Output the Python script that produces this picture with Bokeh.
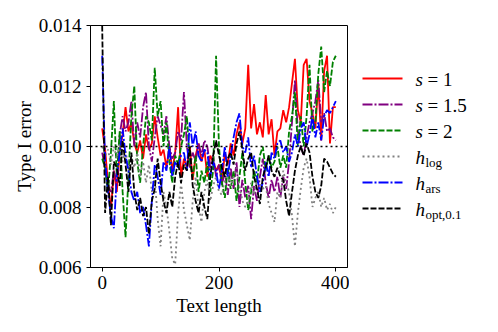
from bokeh.plotting import figure
from bokeh.layouts import row
from bokeh.models import Range1d, FixedTicker, PrintfTickFormatter, Span, ColumnDataSource
from bokeh.core.properties import value
from bokeh.embed import file_html
from bokeh.resources import INLINE

text_length = list(range(0, 401, 5))

s1 = [
0.0106, 0.0099, 0.0088, 0.0079, 0.0092, 0.0085, 0.0098, 0.0104, 0.0113, 0.0105,
0.0108, 0.0101, 0.0098, 0.0102, 0.0096, 0.0104, 0.0099, 0.0101, 0.0110, 0.0103,
0.0097, 0.0099, 0.0093, 0.0100, 0.0092, 0.0098, 0.0113, 0.0090, 0.0096, 0.0093,
0.0100, 0.0089, 0.0097, 0.0101, 0.0095, 0.0099, 0.0090, 0.0097, 0.0095, 0.0092,
0.0094, 0.0088, 0.0098, 0.0094, 0.0101, 0.0097, 0.0104, 0.0108, 0.0101, 0.0106,
0.0127, 0.0106, 0.0114, 0.0104, 0.0108, 0.0103, 0.0117, 0.0104, 0.0109, 0.0097,
0.0105, 0.0106, 0.0112, 0.0108, 0.0113, 0.0121, 0.0129, 0.0112, 0.0108, 0.0127,
0.0129, 0.0115, 0.0111, 0.0106, 0.0121, 0.0102, 0.0125, 0.0130, 0.0101, 0.0113,
0.0113]

s15 = [
0.0098, 0.0093, 0.0087, 0.0085, 0.0092, 0.0088, 0.0104, 0.0110, 0.0105, 0.0108,
0.0115, 0.0100, 0.0108, 0.0103, 0.0113, 0.0118, 0.0100, 0.0095, 0.0103, 0.0110,
0.0107, 0.0104, 0.0110, 0.0100, 0.0096, 0.0098, 0.0105, 0.0102, 0.0118, 0.0100,
0.0093, 0.0098, 0.0095, 0.0101, 0.0097, 0.0102, 0.0100, 0.0093, 0.0097, 0.0090,
0.0094, 0.0087, 0.0092, 0.0084, 0.0093, 0.0086, 0.0095, 0.0080, 0.0089, 0.0083,
0.0087, 0.0076, 0.0087, 0.0082, 0.0090, 0.0096, 0.0088, 0.0083, 0.0089, 0.0085,
0.0090, 0.0083, 0.0090, 0.0086, 0.0095, 0.0108, 0.0122, 0.0105, 0.0100, 0.0097,
0.0103, 0.0108, 0.0111, 0.0115, 0.0122, 0.0108, 0.0111, 0.0105, 0.0106, 0.0103,
0.0102]

s2 = [
0.0096, 0.0093, 0.0085, 0.0098, 0.0115, 0.0090, 0.0105, 0.0085, 0.0070, 0.0090,
0.0110, 0.0120, 0.0095, 0.0088, 0.0100, 0.0110, 0.0108, 0.0102, 0.0126, 0.0110,
0.0115, 0.0100, 0.0108, 0.0095, 0.0088, 0.0097, 0.0094, 0.0100, 0.0104, 0.0110,
0.0095, 0.0090, 0.0097, 0.0085, 0.0092, 0.0088, 0.0095, 0.0085, 0.0092, 0.0130,
0.0100, 0.0088, 0.0083, 0.0093, 0.0086, 0.0092, 0.0082, 0.0090, 0.0098, 0.0088,
0.0079, 0.0085, 0.0092, 0.0088, 0.0097, 0.0100, 0.0092, 0.0097, 0.0093, 0.0095,
0.0100, 0.0093, 0.0097, 0.0093, 0.0105, 0.0110, 0.0118, 0.0100, 0.0110, 0.0100,
0.0110, 0.0127, 0.0105, 0.0108, 0.0124, 0.0133, 0.0118, 0.0125, 0.0120, 0.0128,
0.0130]

h_log = [
0.0100, 0.0097, 0.0099, 0.0094, 0.0100, 0.0096, 0.0101, 0.0095, 0.0099, 0.0092,
0.0097, 0.0093, 0.0098, 0.0090, 0.0095, 0.0088, 0.0094, 0.0085, 0.0090, 0.0076,
0.0067, 0.0085, 0.0080, 0.0072, 0.0063, 0.0061, 0.0078, 0.0088, 0.0079, 0.0074,
0.0069, 0.0082, 0.0090, 0.0080, 0.0075, 0.0085, 0.0089, 0.0082, 0.0087, 0.0090,
0.0085, 0.0084, 0.0089, 0.0091, 0.0087, 0.0090, 0.0093, 0.0087, 0.0082, 0.0080,
0.0082, 0.0088, 0.0084, 0.0089, 0.0088, 0.0086, 0.0087, 0.0081, 0.0078, 0.0075,
0.0085, 0.0083, 0.0092, 0.0088, 0.0085, 0.0077, 0.0067, 0.0078, 0.0086, 0.0093,
0.0096, 0.0090, 0.0080, 0.0083, 0.0085, 0.0080, 0.0083, 0.0079, 0.0081, 0.0078,
0.0080]

h_ars = [
0.0130, 0.0095, 0.0085, 0.0077, 0.0073, 0.0090, 0.0098, 0.0106, 0.0097, 0.0092,
0.0085, 0.0082, 0.0085, 0.0078, 0.0080, 0.0074, 0.0067, 0.0082, 0.0094, 0.0090,
0.0084, 0.0095, 0.0092, 0.0100, 0.0090, 0.0095, 0.0093, 0.0097, 0.0098, 0.0092,
0.0108, 0.0100, 0.0105, 0.0097, 0.0095, 0.0099, 0.0098, 0.0090, 0.0095, 0.0092,
0.0086, 0.0092, 0.0100, 0.0090, 0.0097, 0.0103, 0.0108, 0.0111, 0.0100, 0.0098,
0.0103, 0.0093, 0.0097, 0.0090, 0.0085, 0.0088, 0.0095, 0.0090, 0.0098, 0.0096,
0.0101, 0.0102, 0.0098, 0.0100, 0.0095, 0.0098, 0.0104, 0.0100, 0.0106, 0.0108,
0.0100, 0.0104, 0.0110, 0.0103, 0.0108, 0.0102, 0.0110, 0.0112, 0.0111, 0.0113,
0.0115]

h_opt = [
0.0140, 0.0078, 0.0090, 0.0074, 0.0095, 0.0093, 0.0087, 0.0102, 0.0094, 0.0085,
0.0098, 0.0085, 0.0079, 0.0083, 0.0077, 0.0080, 0.0071, 0.0082, 0.0086, 0.0096,
0.0088, 0.0082, 0.0078, 0.0085, 0.0080, 0.0090, 0.0095, 0.0088, 0.0094, 0.0092,
0.0100, 0.0087, 0.0082, 0.0078, 0.0085, 0.0080, 0.0076, 0.0090, 0.0097, 0.0102,
0.0097, 0.0093, 0.0090, 0.0096, 0.0098, 0.0094, 0.0101, 0.0105, 0.0099, 0.0092,
0.0096, 0.0098, 0.0090, 0.0086, 0.0081, 0.0090, 0.0093, 0.0097, 0.0092, 0.0090,
0.0093, 0.0090, 0.0089, 0.0082, 0.0077, 0.0085, 0.0092, 0.0097, 0.0100, 0.0097,
0.0101, 0.0098, 0.0090, 0.0085, 0.0083, 0.0087, 0.0096, 0.0095, 0.0093, 0.0091,
0.0090]

x_ticks = [0, 200, 400]
y_ticks = [0.006, 0.008, 0.010, 0.012, 0.014]
nominal_level = 0.010

series = [s1, s15, s2, h_log, h_ars, h_opt]
colors = ["red", "purple", "green", "grey", "blue", "black"]
dashes = ["solid", "10 2 2 2", "6 2", "2 3", "10 2 2 2", "6 2"]
leg_sym = ["s", "s", "s", "h", "h", "h"]
leg_rest = ["= 1", "= 1.5", "= 2", "", "", ""]
leg_sub = ["", "", "", "log", "ars", "opt,0.1"]

FONT = "Liberation Serif"

p = figure(frame_width=257, frame_height=242, min_border_left=90, min_border_right=2,
           min_border_top=25, min_border_bottom=57,
           x_range=Range1d(-20, 420), y_range=Range1d(0.006, 0.014),
           output_backend="svg", toolbar_location=None)
p.grid.visible = False
p.outline_line_color = "black"
p.outline_line_width = 1

for ys, c, d in zip(series, colors, dashes):
    src = ColumnDataSource(dict(x=text_length, y=ys))
    p.line("x", "y", source=src, line_color=c, line_width=1.8, line_dash=d)

p.add_layout(Span(location=nominal_level, dimension="width", line_color="black",
                  line_width=1.6, line_dash="2 3"))

p.xaxis.ticker = FixedTicker(ticks=x_ticks)
p.yaxis.ticker = FixedTicker(ticks=y_ticks)
p.yaxis.formatter = PrintfTickFormatter(format="%.3f")
p.axis.minor_tick_line_color = None
p.axis.major_tick_in = 0
p.axis.major_tick_out = 4
p.axis.axis_line_color = "black"
p.axis.major_tick_line_color = "black"
p.axis.major_label_text_font = FONT
p.axis.major_label_text_font_size = "19px"
p.axis.major_label_text_color = "black"
p.axis.axis_label_text_font = FONT
p.axis.axis_label_text_font_size = "19px"
p.axis.axis_label_text_font_style = "normal"
p.axis.axis_label_text_color = "black"
p.xaxis.axis_label = "Text length"
p.yaxis.axis_label = "Type I error"
p.xaxis.major_label_standoff = 4
p.xaxis.axis_label_standoff = 3
p.yaxis.major_label_standoff = 5
p.yaxis.axis_label_standoff = 1

# legend panel (frame aligned with the main frame; y in page pixels)
lg = figure(width=149, frame_height=242, min_border_top=25, min_border_bottom=57,
            min_border_left=0, min_border_right=0,
            x_range=Range1d(0, 149), y_range=Range1d(267, 25),
            x_axis_type=None, y_axis_type=None,
            output_backend="svg", toolbar_location=None)
lg.outline_line_color = None
lg.grid.visible = False
rows_y = [78 + 26 * i for i in range(len(series))]
for yy, c, d in zip(rows_y, colors, dashes):
    lg.line([13, 53], [yy, yy], line_color=c, line_width=1.8, line_dash=d)
lg.text(x=[66] * 6, y=[r + 1 for r in rows_y], text=leg_sym, text_font=value(FONT),
        text_font_style="italic", text_font_size="19px", text_baseline="middle",
        text_color="black")
lg.text(x=[78] * 6, y=[r + 1 for r in rows_y], text=leg_rest, text_font=value(FONT),
        text_font_size="19px", text_baseline="middle", text_color="black")
lg.text(x=[76] * 6, y=[r + 6 for r in rows_y], text=leg_sub, text_font=value(FONT),
        text_font_size="13px", text_baseline="middle", text_color="black")

layout = row(p, lg)
open("out.html", "w").write(file_html(layout, INLINE))
